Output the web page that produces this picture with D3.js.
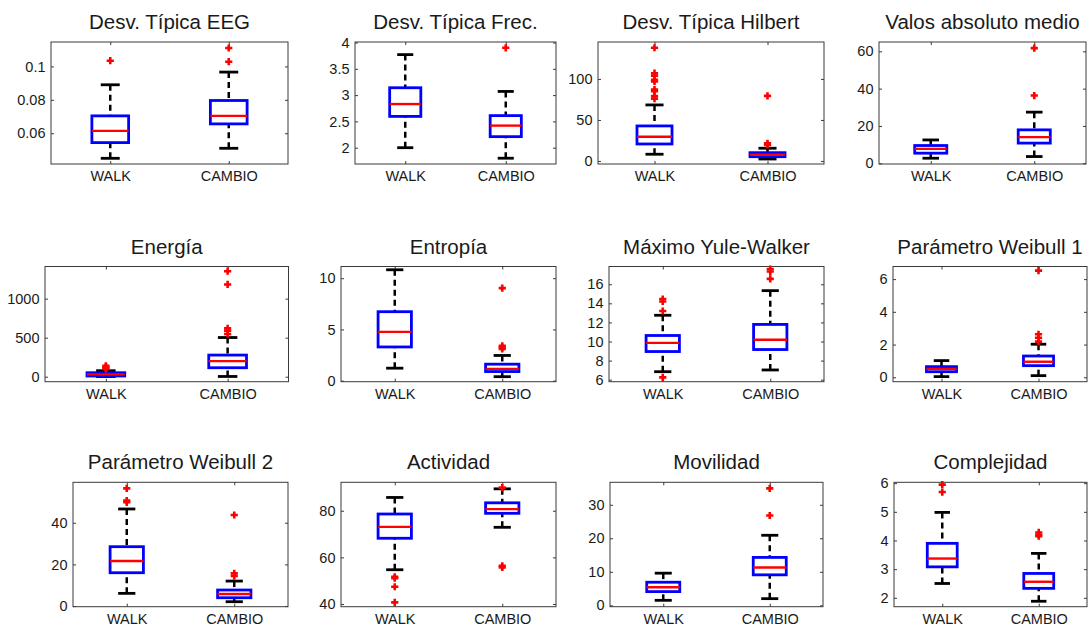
<!DOCTYPE html>
<html>
<head>
<meta charset="utf-8">
<script src="https://cdn.jsdelivr.net/npm/d3@7"></script>
<style>
  html, body { margin: 0; padding: 0; background: #fff; }
  svg { display: block; font-family: "Liberation Sans", Arial, Helvetica, sans-serif; }
</style>
</head>
<body>
<svg id="chart" width="1088" height="626"></svg>
<script>
// ---- data: one entry per feature, each holding [WALK, CAMBIO] ----
const titles = [
  "Desv. Típica EEG", "Desv. Típica Frec.", "Desv. Típica Hilbert", "Valos absoluto medio",
  "Energía", "Entropía", "Máximo Yule-Walker", "Parámetro Weibull 1",
  "Parámetro Weibull 2", "Actividad", "Movilidad", "Complejidad"
];
const groups = ["WALK", "CAMBIO"];

const whiskerLow = [
  [0.045, 0.051], [2.0, 1.80], [8.2, 2.4], [2.7, 3.6],
  [2, 3], [1.22, 0.39], [6.84, 7.02], [0.04, 0.10],
  [6.1, 2.1], [54.7, 72.9], [1.5, 2.0], [2.50, 1.88]
];
const q1 = [
  [0.0544, 0.0656], [2.595, 2.21], [20.7, 5.2], [5.4, 10.8],
  [9, 115], [3.29, 0.89], [8.95, 9.16], [0.34, 0.71],
  [16.0, 4.0], [68.2, 78.9], [4.1, 9.1], [3.08, 2.33]
];
const median = [
  [0.0614, 0.0704], [2.83, 2.42], [29.6, 7.7], [7.7, 14.0],
  [30, 200], [4.76, 1.15], [9.86, 10.18], [0.51, 0.95],
  [21.6, 5.8], [73.1, 80.7], [5.4, 11.3], [3.37, 2.56]
];
const q3 = [
  [0.0704, 0.0796], [3.14, 2.61], [42.7, 10.1], [9.5, 17.9],
  [51, 277], [6.73, 1.61], [10.63, 11.79], [0.65, 1.30],
  [28.5, 7.7], [78.6, 83.4], [6.9, 14.3], [3.90, 2.85]
];
const whiskerHigh = [
  [0.089, 0.0966], [3.77, 3.07], [68.3, 15.5], [12.5, 27.4],
  [77, 502], [10.82, 2.46], [12.75, 15.33], [1.02, 2.02],
  [46.6, 12.0], [85.7, 89.4], [9.6, 20.9], [4.98, 3.55]
];
const outliers = [
  [[0.1034], [0.1028, 0.111]],
  [[], [3.9]],
  [[76, 79, 85, 87, 97, 99, 104, 107, 138], [19.5, 21.6, 79.3]],
  [[], [36.3, 61.7]],
  [[100, 112, 125, 140], [548, 590, 620, 1182, 1352]],
  [[], [3.1, 3.25, 3.4, 9.03]],
  [[6.24, 13.2, 14.2, 14.45], [16.56, 17.33, 17.6]],
  [[], [2.18, 2.42, 2.63, 6.52]],
  [[49.8, 50.6, 56.5], [14.4, 15.7, 43.7]],
  [[40.7, 47.4, 51.1, 51.7], [55.7, 56.4, 89.9]],
  [[], [26.8, 34.9]],
  [[5.69, 5.95], [4.15, 4.2, 4.28]]
];

// axis limits and tick values for each feature
const yLimits = [
  [0.0416, 0.1146], [1.69, 4.01], [-3.7, 145], [-0.4, 65],
  [-64, 1412], [-0.1, 11.14], [5.79, 17.86], [-0.27, 6.77],
  [-0.3, 59.4], [38.85, 92.2], [-0.4, 36.7], [1.69, 6.03]
];
const yTicks = [
  [0.06, 0.08, 0.1], [2, 2.5, 3, 3.5, 4], [0, 50, 100], [0, 20, 40, 60],
  [0, 500, 1000], [0, 5, 10], [6, 8, 10, 12, 14, 16], [0, 2, 4, 6],
  [0, 20, 40], [40, 60, 80], [0, 10, 20, 30], [2, 3, 4, 5, 6]
];

// ---- layout: plot area of each subplot [left, right, top, bottom] ----
const panelRects = [
  [51, 288, 42, 164], [355, 556, 42, 164], [598, 824, 42, 164], [879, 1086, 42, 164],
  [45, 288.5, 266.5, 381.7], [341, 556, 266.5, 381.7], [609, 824, 266.5, 381.7], [893, 1087, 266.5, 381.7],
  [73, 288, 482.3, 606.7], [341, 556, 482.3, 606.7], [610, 823, 482.3, 606.7], [894, 1087, 482.3, 606.7]
];

const boxWidth = 0.31;     // in x-axis units (groups sit at 1 and 2)
const capWidth = 0.16;
const tickLen = 3;
const markerHalf = 3.6;
const textColor = "#1a1a1a";
const axisColor = "#3a3a3a";
const fmt = d3.format("~g");

const svg = d3.select("#chart");

titles.forEach((title, i) => {
  const [x0, x1, y0, y1] = panelRects[i];
  const x = d3.scaleLinear().domain([0.5, 2.5]).range([x0, x1]);
  const y = d3.scaleLinear().domain(yLimits[i]).range([y1, y0]);
  const g = svg.append("g").attr("class", "panel");

  // left axis with labels, right axis ticks only
  const left = g.append("g").attr("transform", `translate(${x0},0)`)
    .call(d3.axisLeft(y).tickValues(yTicks[i]).tickFormat(fmt)
      .tickSizeInner(-tickLen).tickSizeOuter(0).tickPadding(5.5));
  const right = g.append("g").attr("transform", `translate(${x1},0)`)
    .call(d3.axisRight(y).tickValues(yTicks[i]).tickFormat("")
      .tickSizeInner(-tickLen).tickSizeOuter(0));
  // bottom axis with group names, top axis ticks only
  const bottom = g.append("g").attr("transform", `translate(0,${y1})`)
    .call(d3.axisBottom(x).tickValues([1, 2]).tickFormat(d => groups[d - 1])
      .tickSizeInner(-tickLen).tickSizeOuter(0).tickPadding(6.7));
  const top = g.append("g").attr("transform", `translate(0,${y0})`)
    .call(d3.axisTop(x).tickValues([1, 2]).tickFormat("")
      .tickSizeInner(-tickLen).tickSizeOuter(0));

  [left, right, bottom, top].forEach(a => {
    a.select(".domain").remove();
    a.selectAll("line").attr("stroke", axisColor).attr("stroke-width", 1);
    a.selectAll("text").attr("fill", textColor).style("font-size", "14.5px");
  });

  // frame around the plot area
  g.append("rect")
    .attr("x", x0).attr("y", y0)
    .attr("width", x1 - x0).attr("height", y1 - y0)
    .attr("fill", "none").attr("stroke", axisColor).attr("stroke-width", 1);

  // title
  g.append("text")
    .attr("x", (x0 + x1) / 2).attr("y", y0 - 13)
    .attr("text-anchor", "middle")
    .attr("fill", textColor)
    .style("font-size", "20.5px")
    .text(title);

  groups.forEach((name, j) => {
    const cx = x(j + 1);
    const halfBox = (x(1 + boxWidth / 2) - x(1));
    const halfCap = (x(1 + capWidth / 2) - x(1));

    // whiskers (dashed) drawn from the cap towards the box
    g.append("line")
      .attr("x1", cx).attr("x2", cx)
      .attr("y1", y(whiskerHigh[i][j])).attr("y2", y(q3[i][j]))
      .attr("stroke", "#000").attr("stroke-width", 2.5).attr("stroke-dasharray", "6,4");
    g.append("line")
      .attr("x1", cx).attr("x2", cx)
      .attr("y1", y(whiskerLow[i][j])).attr("y2", y(q1[i][j]))
      .attr("stroke", "#000").attr("stroke-width", 2.5).attr("stroke-dasharray", "6,4");

    // whisker caps
    [whiskerHigh[i][j], whiskerLow[i][j]].forEach(v => {
      g.append("line")
        .attr("x1", cx - halfCap).attr("x2", cx + halfCap)
        .attr("y1", y(v)).attr("y2", y(v))
        .attr("stroke", "#000").attr("stroke-width", 2.8);
    });

    // interquartile box
    g.append("rect")
      .attr("x", cx - halfBox).attr("width", 2 * halfBox)
      .attr("y", y(q3[i][j])).attr("height", Math.max(0, y(q1[i][j]) - y(q3[i][j])))
      .attr("fill", "none").attr("stroke", "#0000ff").attr("stroke-width", 2.8);

    // median
    g.append("line")
      .attr("x1", cx - halfBox).attr("x2", cx + halfBox)
      .attr("y1", y(median[i][j])).attr("y2", y(median[i][j]))
      .attr("stroke", "#ff0000").attr("stroke-width", 2.4);

    // outliers as "+" markers
    outliers[i][j].forEach(v => {
      const py = y(v);
      g.append("path")
        .attr("d", `M${cx - markerHalf},${py}H${cx + markerHalf}M${cx},${py - markerHalf}V${py + markerHalf}`)
        .attr("stroke", "#ff0000").attr("stroke-width", 2.6).attr("fill", "none");
    });
  });
});
</script>
</body>
</html>
